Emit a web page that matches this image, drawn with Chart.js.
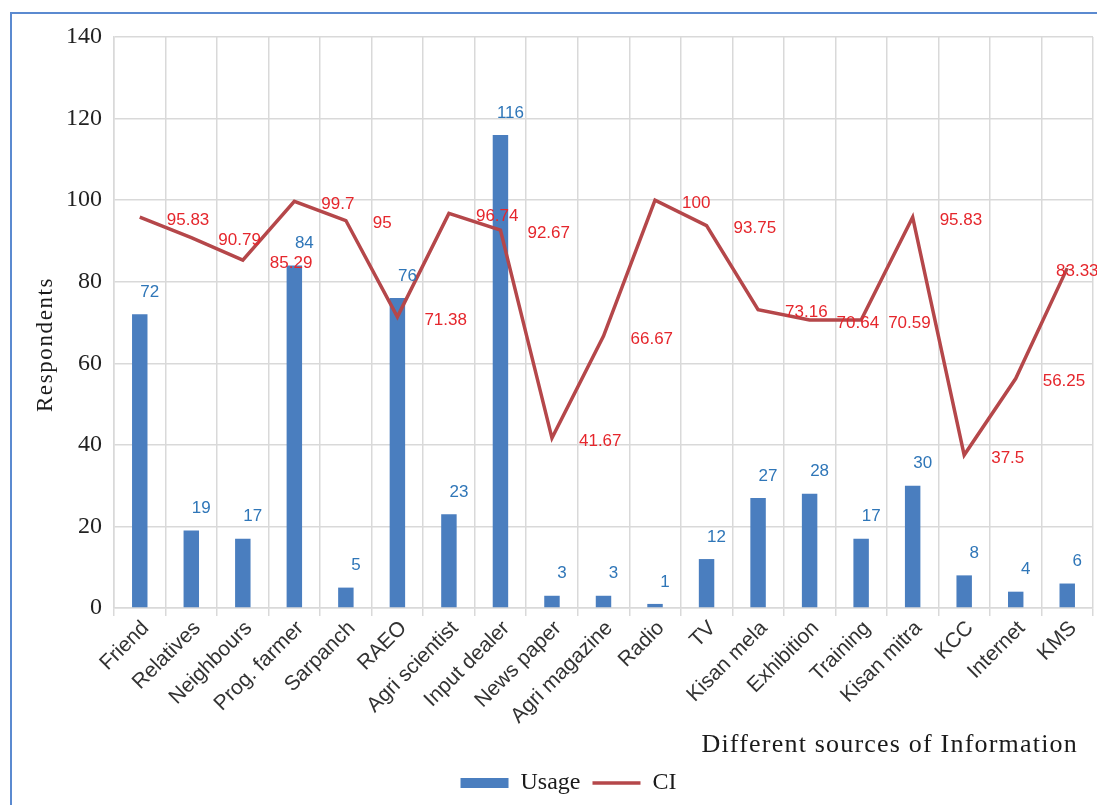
<!DOCTYPE html>
<html>
<head>
<meta charset="utf-8">
<title>Sources of Information – Usage and CI</title>
<script src="https://cdn.jsdelivr.net/npm/chart.js@4.4.1/dist/chart.umd.min.js"></script>
<style>
  html, body { margin: 0; padding: 0; background: #ffffff; overflow: hidden; }
  #wrap { position: relative; width: 1097px; height: 805px; }
  #frame {
    position: absolute; left: 10px; top: 12px; width: 1200px; height: 900px;
    border: 2px solid #5b8ad0; box-sizing: border-box;
  }
  #chart { position: absolute; left: 0; top: 0; }
</style>
</head>
<body>
<div id="wrap">
  <div id="frame"></div>
  <canvas id="chart" width="1097" height="805"></canvas>
</div>
<script>
// Sources of information and the two series plotted against them
const categories = [
  'Friend', 'Relatives', 'Neighbours', 'Prog. farmer', 'Sarpanch', 'RAEO',
  'Agri scientist', 'Input dealer', 'News paper', 'Agri magazine', 'Radio', 'TV',
  'Kisan mela', 'Exhibition', 'Training', 'Kisan mitra', 'KCC', 'Internet', 'KMS'
];
const usage = [72, 19, 17, 84, 5, 76, 23, 116, 3, 3, 1, 12, 27, 28, 17, 30, 8, 4, 6];
const ci = [95.83, 90.79, 85.29, 99.7, 95, 71.38, 96.74, 92.67, 41.67, 66.67, 100,
            93.75, 73.16, 70.64, 70.59, 95.83, 37.5, 56.25, 83.33];

const yMin = 0;
const yMax = 140;
const yStep = 20;

const xTitle = 'Different sources of Information';
const yTitle = 'Respondents';

const BAR_BLUE = '#4a7ebf';
const BAR_LABEL = '#2f76b8';
const LINE_RED = '#b5474a';
const LINE_LABEL = '#e5262c';
const GRID = '#d9d9d9';

// Value labels: usage above each bar, CI beside each line vertex
const valueLabels = {
  id: 'valueLabels',
  afterDatasetsDraw(chart) {
    const ctx = chart.ctx;
    const bars = chart.getDatasetMeta(0).data;
    const pts = chart.getDatasetMeta(1).data;
    ctx.save();
    ctx.font = '17px "Liberation Sans", Arial, sans-serif';
    ctx.textBaseline = 'middle';

    ctx.fillStyle = BAR_LABEL;
    ctx.textAlign = 'center';
    bars.forEach((bar, i) => {
      ctx.fillText(String(usage[i]), bar.x + 10, bar.y - 22);
    });

    ctx.fillStyle = LINE_LABEL;
    ctx.textAlign = 'left';
    pts.forEach((pt, i) => {
      const x = Math.min(pt.x + 27, chart.width - 41);
      ctx.fillText(String(ci[i]), x, pt.y + 3);
    });
    ctx.restore();
  }
};

// Axis titles in a serif face with slightly open tracking
const axisTitles = {
  id: 'axisTitles',
  afterDraw(chart) {
    const ctx = chart.ctx;
    const area = chart.chartArea;
    ctx.save();
    ctx.fillStyle = '#1a1a1a';
    ctx.textBaseline = 'middle';
    if ('letterSpacing' in ctx) ctx.letterSpacing = '1.2px';
    ctx.font = '26px "Liberation Serif", "Times New Roman", serif';
    ctx.textAlign = 'right';
    ctx.fillText(xTitle, area.right - 15, area.bottom + 137);

    ctx.font = '23px "Liberation Serif", "Times New Roman", serif';
    if ('letterSpacing' in ctx) ctx.letterSpacing = '1.6px';
    ctx.translate(46, (area.top + area.bottom) / 2 + 22);
    ctx.rotate(-Math.PI / 2);
    ctx.textAlign = 'center';
    ctx.fillText(yTitle, 0, 0);
    ctx.restore();
  }
};

new Chart(document.getElementById('chart'), {
  type: 'bar',
  data: {
    labels: categories,
    datasets: [
      {
        type: 'bar',
        label: 'Usage',
        data: usage,
        backgroundColor: BAR_BLUE,
        borderWidth: 0,
        barPercentage: 0.3,
        categoryPercentage: 1.0,
        pointStyle: 'rect',
        order: 2
      },
      {
        type: 'line',
        label: 'CI',
        data: ci,
        borderColor: LINE_RED,
        backgroundColor: LINE_RED,
        borderWidth: 3.5,
        tension: 0,
        pointRadius: 0,
        pointHoverRadius: 0,
        pointStyle: 'line',
        fill: false,
        order: 1
      }
    ]
  },
  options: {
    responsive: false,
    animation: false,
    devicePixelRatio: 1,
    layout: { padding: { left: 44, right: 4, top: 37, bottom: 0 } },
    plugins: {
      tooltip: { enabled: false },
      legend: {
        position: 'bottom',
        labels: {
          usePointStyle: true,
          pointStyleWidth: 48,
          boxHeight: 10,
          padding: 12,
          color: '#1a1a1a',
          font: { family: '"Liberation Serif", "Times New Roman", serif', size: 24 },
          sort: (a, b) => a.datasetIndex - b.datasetIndex
        }
      }
    },
    scales: {
      x: {
        grid: { color: GRID, lineWidth: 1.5, tickLength: 8, offset: true },
        border: { color: GRID, width: 1.5 },
        ticks: {
          autoSkip: false,
          maxRotation: 45,
          minRotation: 45,
          padding: 0,
          labelOffset: 6,
          color: '#333333',
          font: { family: '"Liberation Sans", Arial, sans-serif', size: 21 }
        },
        afterFit(scale) { scale.height = 151; }
      },
      y: {
        min: yMin,
        max: yMax,
        grid: { color: GRID, lineWidth: 1.5, drawTicks: false },
        border: { color: GRID, width: 1.5 },
        ticks: {
          stepSize: yStep,
          padding: 12,
          color: '#222222',
          font: { family: '"Liberation Serif", "Times New Roman", serif', size: 24 }
        },
        afterFit(scale) { scale.width = 70; }
      }
    }
  },
  plugins: [valueLabels, axisTitles]
});
</script>
</body>
</html>
